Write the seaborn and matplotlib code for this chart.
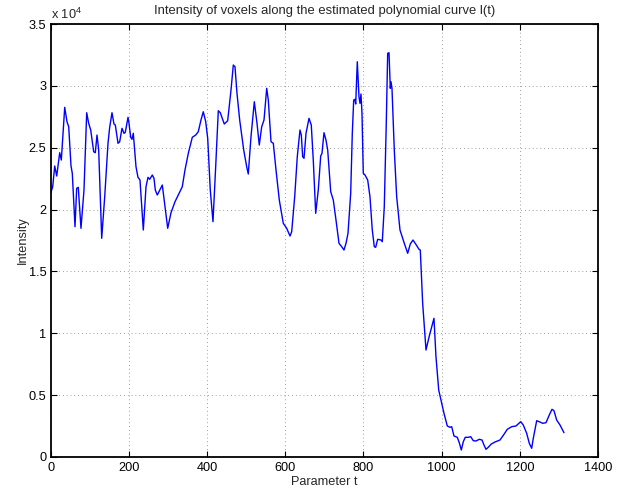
import numpy as np
import pandas as pd
import matplotlib
matplotlib.use("Agg")
import matplotlib.pyplot as plt
import seaborn as sns
from matplotlib.ticker import FuncFormatter, MultipleLocator

# Parameter t values
t_values = [
    0, 5.4, 10.5, 15.6, 23.3, 27.4, 36.1, 41.9, 46.3, 52.2, 55.5, 62.4, 66.7, 70.8, 77.7,
    85.4, 92.3, 97.4, 102.6, 110.2, 114.3, 118.7, 123, 130.7, 138.4, 146.8, 151.1, 157,
    162.1, 165.5, 172.4, 176.7, 182.6, 187.7, 191, 198, 200.5, 204.9, 208.2, 211.5, 218.4,
    223.5, 228.6, 237.1, 244, 249.1, 253.4, 260.1, 264.4, 267.8, 272.9, 285.7, 299.5,
    307.9, 318.2, 326.6, 336.8, 343.7, 352.2, 362.4, 371.1, 377.7, 384.6, 390.5, 396.7,
    401.8, 408.4, 415.3, 422.2, 428.9, 434, 444.2, 452.9, 461.4, 467.3, 471.6, 476.7,
    483.6, 493.9, 501.5, 505.6, 512.5, 521, 527.9, 533.7, 539.9, 545.8, 552.7, 556.8,
    563.7, 569.6, 576.5, 584.9, 595.1, 603.8, 612.3, 616.6, 624.3, 630.9, 637.8, 641.2,
    644.7, 648.1, 653.2, 660.9, 666.7, 671.8, 678, 684.6, 690.8, 694.1, 699.2, 704.3,
    708.7, 716.4, 723, 729.9, 737.6, 744.5, 750.4, 755.5, 760.6, 767.5, 771.6, 775.2,
    778.5, 780.3, 784.4, 788.7, 791.3, 793.8, 796.4, 799.7, 804.1, 811, 816.8, 822.7,
    827.9, 831.4, 836.5, 845, 848.3, 853.4, 858.5, 862.1, 865.5, 868.8, 870.6, 873.1,
    879, 885.1, 893.6, 904.6, 913.3, 919.9, 926.8, 933.7, 942.2, 945.5, 951.6, 960.1,
    968.5, 980.5, 985.6, 992.6, 1000.2, 1006.1, 1014.6, 1021.5, 1025.8, 1031.7, 1040.1,
    1045.2, 1050.4, 1055.5, 1060.6, 1068.3, 1074.4, 1081.1, 1087.9, 1096.4, 1103.3,
    1108.4, 1113.5, 1119.4, 1127.1, 1136.5, 1149.3, 1159.6, 1168, 1179.2, 1190.2, 1202.3,
    1208.9, 1217.6, 1224.3, 1230.4, 1234.5, 1243.2, 1251.6, 1258.5, 1267, 1275.4, 1282.3,
    1287.4, 1294.3, 1302.8, 1313,
]

# Intensity values
intensity_values = [
    21300, 21850, 23526, 22717, 24602, 24011, 28275, 27110, 26705, 23526, 22935, 18615,
    21722, 21803, 18486, 21584, 27838, 26980, 26438, 24683, 24602, 26034, 24820, 17677,
    21042, 25362, 26657, 27838, 26924, 26843, 25362, 25492, 26576, 26171, 26252, 27466,
    26980, 25848, 25686, 26171, 23469, 22612, 22393, 18348, 21851, 22612, 22450, 22798,
    22531, 21584, 21180, 21989, 18486, 19748, 20638, 21180, 21851, 23202, 24553, 25848,
    26034, 26301, 27247, 27919, 27110, 25767, 21584, 19020, 23469, 27999, 27838, 26924,
    27190, 29674, 31697, 31559, 29407, 27247, 24820, 23469, 22879, 25896, 28728, 26980,
    25225, 26705, 27247, 29812, 28865, 25492, 25362, 23202, 20775, 18890, 18486, 17863,
    18211, 21042, 24278, 26438, 26034, 24278, 24149, 26171, 27385, 26843, 24011, 19699,
    21584, 24335, 24553, 26220, 25629, 24820, 21447, 20775, 19157, 17272, 16997, 16730,
    17272, 18081, 21317, 26171, 28865, 28922, 28542, 31964, 29132, 28598, 29351, 27789,
    22935, 22798, 22393, 21042, 18348, 16997, 16949, 17596, 17539, 17402, 20233, 26980,
    32643, 32692, 29812, 30346, 29812, 24820, 21042, 18348, 17272, 16463, 17216, 17539,
    17216, 16787, 16730, 12418, 8640, 9773, 11205, 8098, 5404, 4328, 3519, 2492, 2387,
    2435, 1683, 1578, 1141, 550, 1222, 1578, 1578, 1626, 1302, 1278, 1416, 1359, 955,
    607, 769, 1036, 1197, 1359, 1820, 2225, 2435, 2492, 2840, 2573, 1901, 1092, 688,
    1497, 2920, 2815, 2710, 2759, 3382, 3843, 3729, 2977, 2573, 1950,
]

x_ticks = [0, 200, 400, 600, 800, 1000, 1200, 1400]
y_ticks = [0, 5000, 10000, 15000, 20000, 25000, 30000, 35000]

title_text = "Intensity of voxels along the estimated polynomial curve l(t)"
x_label = "Parameter t"
y_label = "Intensity"

sns.set_style("white")
plt.rcParams["font.family"] = ["Liberation Sans", "DejaVu Sans"]
plt.rcParams["mathtext.fontset"] = "custom"
plt.rcParams["mathtext.rm"] = "Liberation Sans"
plt.rcParams["mathtext.it"] = "Liberation Sans"

df = pd.DataFrame({"t": t_values, "I": intensity_values})

fig = plt.figure(figsize=(6.19, 4.91), dpi=100)
ax = fig.add_axes([50.6 / 619, (491 - 456.8) / 491, (598 - 50.6) / 619, (456.8 - 24.2) / 491])

sns.lineplot(data=df, x="t", y="I", ax=ax, color=(0, 0, 1), linewidth=1.0,
             estimator=None, sort=True)

ax.set_xlim(0, 1400)
ax.set_ylim(0, 35000)
ax.set_xticks(x_ticks)
ax.set_yticks(y_ticks)
ax.yaxis.set_major_formatter(FuncFormatter(lambda v, p: f"{v / 1e4:g}"))

ax.grid(True, linestyle=(0, (1, 4)), color="#666666", linewidth=0.55)
ax.set_axisbelow(True)

for s in ax.spines.values():
    s.set_visible(True)
    s.set_color("black")
    s.set_linewidth(1.3)

fs = 9.2
ax.tick_params(direction="in", length=4, width=0.8, colors="black",
               top=True, right=True, bottom=True, left=True,
               labelsize=fs, pad=3)
ax.tick_params(axis="x", pad=4)

ax.set_xlabel(x_label, fontsize=fs, labelpad=1)
ax.set_ylabel(y_label, fontsize=fs, labelpad=0)
ax.set_title(title_text, fontsize=9.4, pad=7)

ax.text(0.0, 1.006, r"x 10$^{4}$", transform=ax.transAxes, ha="left", va="bottom",
        fontsize=fs)

fig.savefig("out.png", dpi=100)
